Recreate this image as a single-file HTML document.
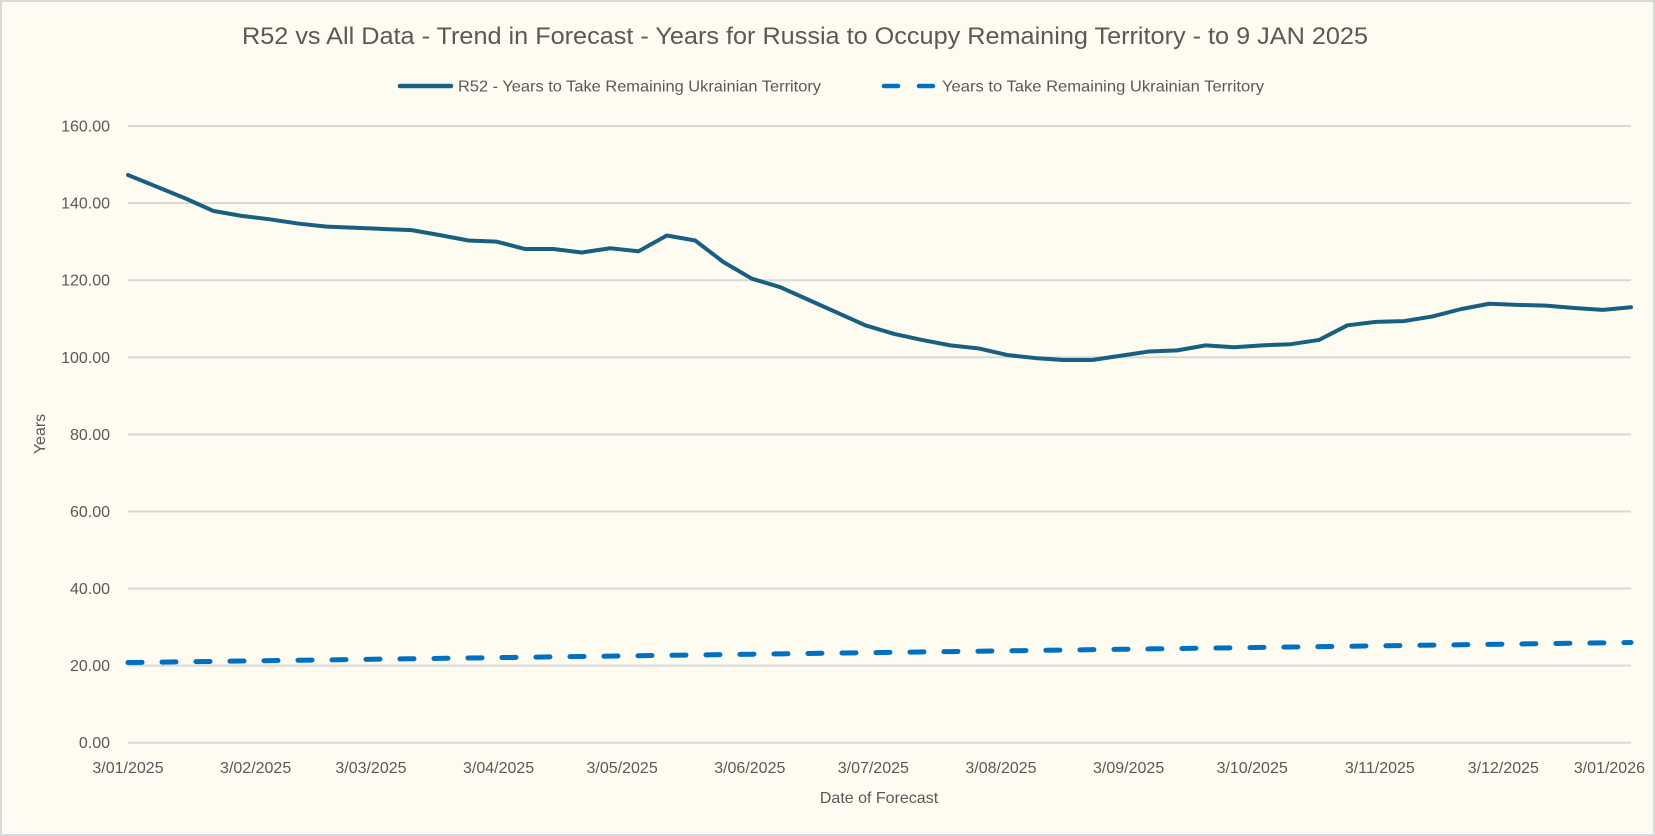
<!DOCTYPE html>
<html><head><meta charset="utf-8"><style>
html,body{margin:0;padding:0;background:#fefbf1;}
svg{display:block;}
text{font-family:"Liberation Sans Narrow","Liberation Sans",sans-serif;fill:#595959;}
</style></head><body>
<svg id="s" width="1655" height="836" xmlns="http://www.w3.org/2000/svg">
<rect x="1" y="1" width="1653" height="834" fill="#fefbf1" stroke="#d9d9d9" stroke-width="2"/>
<text x="805" y="44" font-size="24" text-anchor="middle" textLength="1126" lengthAdjust="spacingAndGlyphs">R52 vs All Data  - Trend in Forecast - Years for Russia to Occupy Remaining Territory - to 9 JAN 2025</text>
<line x1="400" y1="86" x2="451" y2="86" stroke="#185f82" stroke-width="4.5" stroke-linecap="round"/>
<text x="458" y="91.5" font-size="16" textLength="363" lengthAdjust="spacingAndGlyphs">R52 - Years to Take Remaining Ukrainian Territory</text>
<line x1="884" y1="86" x2="898" y2="86" stroke="#0070c0" stroke-width="4.5" stroke-linecap="round"/>
<line x1="919" y1="86" x2="933" y2="86" stroke="#0070c0" stroke-width="4.5" stroke-linecap="round"/>
<text x="942" y="91.5" font-size="16" textLength="322" lengthAdjust="spacingAndGlyphs">Years to Take Remaining Ukrainian Territory</text>
<g id="grid"></g>
<text transform="translate(45,434) rotate(-90)" font-size="16" text-anchor="middle">Years</text>
<text x="879" y="803" font-size="16" text-anchor="middle">Date of Forecast</text>
<polyline id="p1" fill="none" stroke="#185f82" stroke-width="4" stroke-linejoin="round" stroke-linecap="round"/>
<polyline id="p2" fill="none" stroke="#0070c0" stroke-width="5" stroke-dasharray="14 20" stroke-linecap="round"/>
</svg>
<script>
var L=128,R=1631,Y0=742.7,K=3.854,ns="http://www.w3.org/2000/svg",g=document.getElementById('grid');
function el(t,a,txt){var e=document.createElementNS(ns,t);for(var k in a)e.setAttribute(k,a[k]);if(txt)e.textContent=txt;g.appendChild(e);}
for(var v=0;v<=160;v+=20){var y=Y0-v*K;el('line',{x1:L,x2:R,y1:y,y2:y,stroke:'#d9d9d9','stroke-width':2});el('text',{x:110,y:y+5.5,'font-size':16,'text-anchor':'end'},v.toFixed(2));}
var days=[0,31,59,90,120,151,181,212,243,273,304,334,365],mo=['01','02','03','04','05','06','07','08','09','10','11','12','01'];
for(var i=0;i<13;i++){var x=L+days[i]/365*(R-L);if(i==12)el('text',{x:1645,y:773,'font-size':16,'text-anchor':'end'},'3/01/2026');else el('text',{x:x,y:773,'font-size':16,'text-anchor':'middle'},'3/'+mo[i]+'/2025');}
var d=[147.3,144.3,141.3,138,136.7,135.8,134.7,133.9,133.6,133.3,133,131.7,130.3,130,128.1,128.1,127.2,128.3,127.5,131.6,130.3,124.7,120.4,118.2,114.9,111.6,108.3,106.1,104.5,103.1,102.3,100.6,99.8,99.3,99.3,100.4,101.5,101.8,103.1,102.6,103.1,103.4,104.5,108.3,109.2,109.4,110.6,112.5,113.9,113.6,113.4,112.8,112.3,113];
var n=d.length,p1=[],p2=[];
for(var i=0;i<n;i++){var x=L+i*(R-L)/(n-1);p1.push(x+','+(Y0-d[i]*K));var v2=20.8+5.2*i/(n-1);p2.push(x+','+(Y0-v2*K));}
document.getElementById('p1').setAttribute('points',p1.join(' '));
document.getElementById('p2').setAttribute('points',p2.join(' '));
</script>
</body></html>
